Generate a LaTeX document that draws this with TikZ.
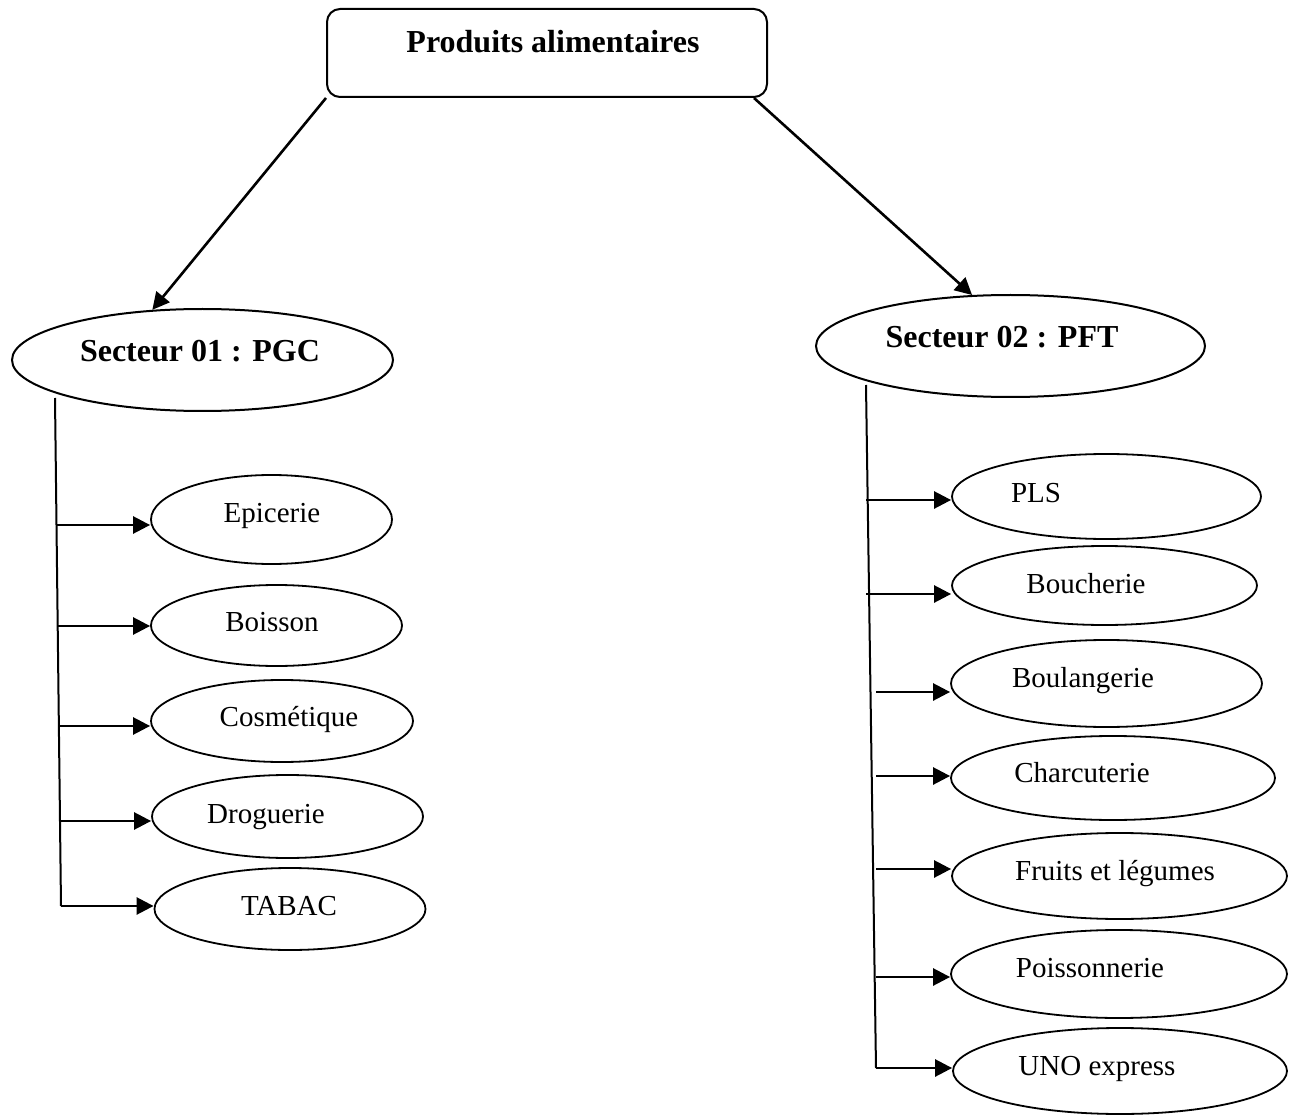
\documentclass[tikz,border=0pt]{standalone}
\usepackage{fontspec}
\setmainfont{Liberation Serif}
\usetikzlibrary{arrows.meta,shapes.geometric}

\tikzset{
  headbox/.style={draw, rounded corners=13pt, line width=2pt, minimum width=440pt, minimum height=88pt, inner sep=0pt},
  sector/.style={draw, ellipse, line width=2pt, minimum width=381pt, minimum height=102pt, inner sep=0pt},
  item/.style={draw, ellipse, line width=1.8pt, inner sep=0pt},
  boldlabel/.style={anchor=base, inner sep=0pt, font=\fontsize{32}{38}\selectfont\bfseries},
  itemlabel/.style={anchor=base, inner sep=0pt, font=\fontsize{29}{34}\selectfont},
  link/.style={line width=2.6pt, -{Triangle[length=17pt,width=17pt]}},
  trunk/.style={line width=2pt}
}

\begin{document}
\begin{tikzpicture}[x=1pt, y=-1pt]
\useasboundingbox (0,0) rectangle (1294,1115);

% root box
\node[headbox] (top) at (547,53) {};
\node[boldlabel] (toptxt) at (553,53) {Produits alimentaires};

% the two sectors
\node[sector] (s1) at (202.5,360) {};
\node[boldlabel] (s1txt) at (200,362) {Secteur 01 : PGC};
\node[sector, minimum width=389pt] (s2) at (1010.5,346) {};
\node[boldlabel] (s2txt) at (1002,348) {Secteur 02 : PFT};

\draw[link] (top.south west) -- (s1.135);
\draw[link] ([xshift=-14pt]top.south east) -- (s2.127);

% sector 01 departments
\node[item, minimum width=241pt, minimum height=89pt] (epi) at (271.5,519.5) {};
\node[itemlabel] at (272,522) {Epicerie};
\node[item, minimum width=251pt, minimum height=81pt] (boi) at (276.5,625.5) {};
\node[itemlabel] at (272,631) {Boisson};
\node[item, minimum width=262pt, minimum height=82pt] (cos) at (282,721) {};
\node[itemlabel] at (289,726) {Cosmétique};
\node[item, minimum width=271pt, minimum height=83pt] (dro) at (287.5,816.5) {};
\node[itemlabel] at (266,823) {Droguerie};
\node[item, minimum width=271pt, minimum height=82pt] (tab) at (290,909) {};
\node[itemlabel] at (289,915) {TABAC};

% sector 01 trunk
\coordinate (l0) at (55,398);
\coordinate (l1) at (56,525);
\coordinate (l2) at (57,626);
\coordinate (l3) at (58,726);
\coordinate (l4) at (60,821);
\coordinate (l5) at (61,906);
\draw[trunk] (l0) -- (l5);
\draw[link] (l1) -- (epi.west |- l1);
\draw[link] (l2) -- (boi.west |- l2);
\draw[link] (l3) -- (cos.west |- l3);
\draw[link] (l4) -- (dro.west |- l4);
\draw[link] (l5) -- (tab.west |- l5);

% sector 02 departments
\node[item, minimum width=309pt, minimum height=85pt] (pls) at (1106.5,496.5) {};
\node[itemlabel] at (1036,502) {PLS};
\node[item, minimum width=305pt, minimum height=79pt] (bou) at (1104.5,585.5) {};
\node[itemlabel] at (1086,593) {Boucherie};
\node[item, minimum width=311pt, minimum height=87pt] (bla) at (1106.5,683.5) {};
\node[itemlabel] at (1083,687) {Boulangerie};
\node[item, minimum width=324pt, minimum height=84pt] (cha) at (1113,778) {};
\node[itemlabel] at (1082,782) {Charcuterie};
\node[item, minimum width=335pt, minimum height=86pt] (fru) at (1119.5,876) {};
\node[itemlabel] at (1115,880) {Fruits et légumes};
\node[item, minimum width=336pt, minimum height=88pt] (poi) at (1119,974) {};
\node[itemlabel] at (1090,977) {Poissonnerie};
\node[item, minimum width=334pt, minimum height=86pt] (uno) at (1120,1071) {};
\node[itemlabel] at (1097,1075) {UNO express};

% sector 02 trunk
\coordinate (r0) at (866,385);
\coordinate (r1) at (866,500);
\coordinate (r2) at (866,594);
\coordinate (r3) at (876,692);
\coordinate (r4) at (876,776);
\coordinate (r5) at (876,869);
\coordinate (r6) at (876,977);
\coordinate (r7) at (876,1068);
\draw[trunk] (r0) -- (r7);
\draw[link] (r1) -- (pls.west |- r1);
\draw[link] (r2) -- (bou.west |- r2);
\draw[link] (r3) -- (bla.west |- r3);
\draw[link] (r4) -- (cha.west |- r4);
\draw[link] (r5) -- (fru.west |- r5);
\draw[link] (r6) -- (poi.west |- r6);
\draw[link] (r7) -- (uno.west |- r7);
\end{tikzpicture}
\end{document}
